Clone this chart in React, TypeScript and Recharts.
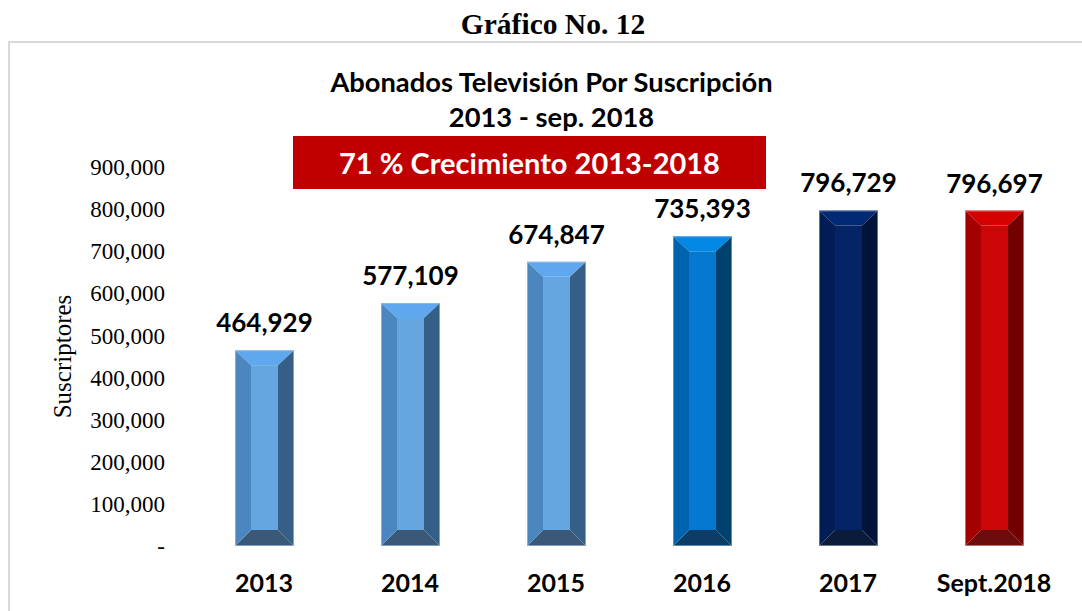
import React from 'react';
import { BarChart, Bar, XAxis, YAxis, LabelList, Cell } from 'recharts';

const categories = ['2013', '2014', '2015', '2016', '2017', 'Sept.2018'];
const subscribers = [464929, 577109, 674847, 735393, 796729, 796697];
const yTicks = [0, 100000, 200000, 300000, 400000, 500000, 600000, 700000, 800000, 900000];

const palettes = [
  { face: '#65a6e1', top: '#5fa8ee', left: '#4c86be', right: '#365f87', bottom: '#3a5979', edge: '#9fbddc' },
  { face: '#65a6e1', top: '#5fa8ee', left: '#4c86be', right: '#365f87', bottom: '#3a5979', edge: '#9fbddc' },
  { face: '#65a6e1', top: '#5fa8ee', left: '#4c86be', right: '#365f87', bottom: '#3a5979', edge: '#9fbddc' },
  { face: '#0479cf', top: '#0388e6', left: '#0063ae', right: '#00426f', bottom: '#0d3c67', edge: '#7fa9cf' },
  { face: '#042466', top: '#022a74', left: '#011c56', right: '#00143b', bottom: '#0b1c3b', edge: '#8a9ab8' },
  { face: '#cc0606', top: '#d60000', left: '#a40000', right: '#720000', bottom: '#6c0b0b', edge: '#d49a9a' },
];

const data = categories.map((c, i) => ({ name: c, value: subscribers[i] }));

const fmt = (v: number) => (v === 0 ? '-' : v.toLocaleString('en-US'));

const BevelBar = (props: any) => {
  const { x, y, width: w, height: h, index } = props;
  const p = palettes[index];
  const b = 16;
  const t = 15;
  const bb = 16;
  return (
    <g>
      <polygon points={`${x},${y} ${x + w},${y} ${x + w - b},${y + t} ${x + b},${y + t}`} fill={p.top} />
      <polygon points={`${x},${y + h} ${x + w},${y + h} ${x + w - b},${y + h - bb} ${x + b},${y + h - bb}`} fill={p.bottom} />
      <polygon points={`${x},${y} ${x + b},${y + t} ${x + b},${y + h - bb} ${x},${y + h}`} fill={p.left} />
      <polygon points={`${x + w},${y} ${x + w - b},${y + t} ${x + w - b},${y + h - bb} ${x + w},${y + h}`} fill={p.right} />
      <rect x={x + b} y={y + t} width={w - 2 * b} height={h - t - bb} fill={p.face} />
      <rect x={x + 0.5} y={y + 0.5} width={w - 1} height={h - 1} fill="none" stroke={p.edge} strokeWidth={1} strokeOpacity={0.7} />
    </g>
  );
};

const ValueLabel = (props: any) => {
  const { x, y, width, value } = props;
  return (
    <text x={x + width / 2} y={y - 18} textAnchor="middle" fontFamily="Lato" fontWeight={700} fontSize={26} fill="#000">
      {fmt(value)}
    </text>
  );
};

const YTitle = (props: any) => {
  const { viewBox } = props;
  const cx = 62;
  const cy = viewBox.y + viewBox.height / 2;
  return (
    <text x={cx} y={cy} transform={`rotate(-90 ${cx} ${cy})`} textAnchor="middle" dominantBaseline="central" fontFamily="Liberation Serif" fontSize={25} fill="#000">
      Suscriptores
    </text>
  );
};

export default function App() {
  return (
    <div style={{ position: 'absolute', left: 0, top: 0, width: 1082, height: 611, background: '#fff', overflow: 'hidden' }}>
      <div style={{ position: 'absolute', left: 8, top: 41, width: 1090, height: 600, borderLeft: '2px solid #d9d9d9', borderTop: '2px solid #d9d9d9' }} />
      <div style={{ position: 'absolute', left: 0, width: 1106, top: 7, textAlign: 'center', fontFamily: 'Liberation Serif', fontWeight: 700, fontSize: 29.5, lineHeight: '35px' }}>
        Gráfico No. 12
      </div>
      <div style={{ position: 'absolute', left: 0, width: 1103, top: 64, textAlign: 'center', fontFamily: 'Lato', fontWeight: 700, fontSize: 27.3, lineHeight: '35px', color: '#000' }}>
        Abonados Televisión Por Suscripción
        <br />
        2013 - sep. 2018
      </div>
      <div style={{ position: 'absolute', left: 293, top: 136, width: 473, height: 53, background: '#c00000', color: '#fff', fontFamily: 'Lato', fontWeight: 700, fontSize: 29, lineHeight: '53px', textAlign: 'center' }}>
        71 % Crecimiento 2013-2018
      </div>
      <div style={{ position: 'absolute', left: 0, top: 0 }}>
        <BarChart width={1082} height={611} data={data} margin={{ top: 167, right: 15, bottom: 25, left: 40 }}>
          <XAxis
            dataKey="name"
            height={40}
            axisLine={false}
            tickLine={false}
            tickSize={0}
            tickMargin={28}
            interval={0}
            tick={{ fontFamily: 'Lato', fontWeight: 700, fontSize: 25, fill: '#000' }}
          />
          <YAxis
            width={151}
            domain={[0, 900000]}
            ticks={yTicks}
            interval={0}
            axisLine={false}
            tickLine={false}
            tickSize={0}
            tickMargin={26}
            tickFormatter={fmt}
            tick={{ fontFamily: 'Liberation Serif', fontSize: 23, fill: '#000' }}
            label={<YTitle />}
          />
          <Bar dataKey="value" barSize={59} shape={<BevelBar />} isAnimationActive={false}>
            {data.map((d, i) => (
              <Cell key={d.name} fill={palettes[i].face} />
            ))}
            <LabelList dataKey="value" content={<ValueLabel />} />
          </Bar>
        </BarChart>
      </div>
    </div>
  );
}
